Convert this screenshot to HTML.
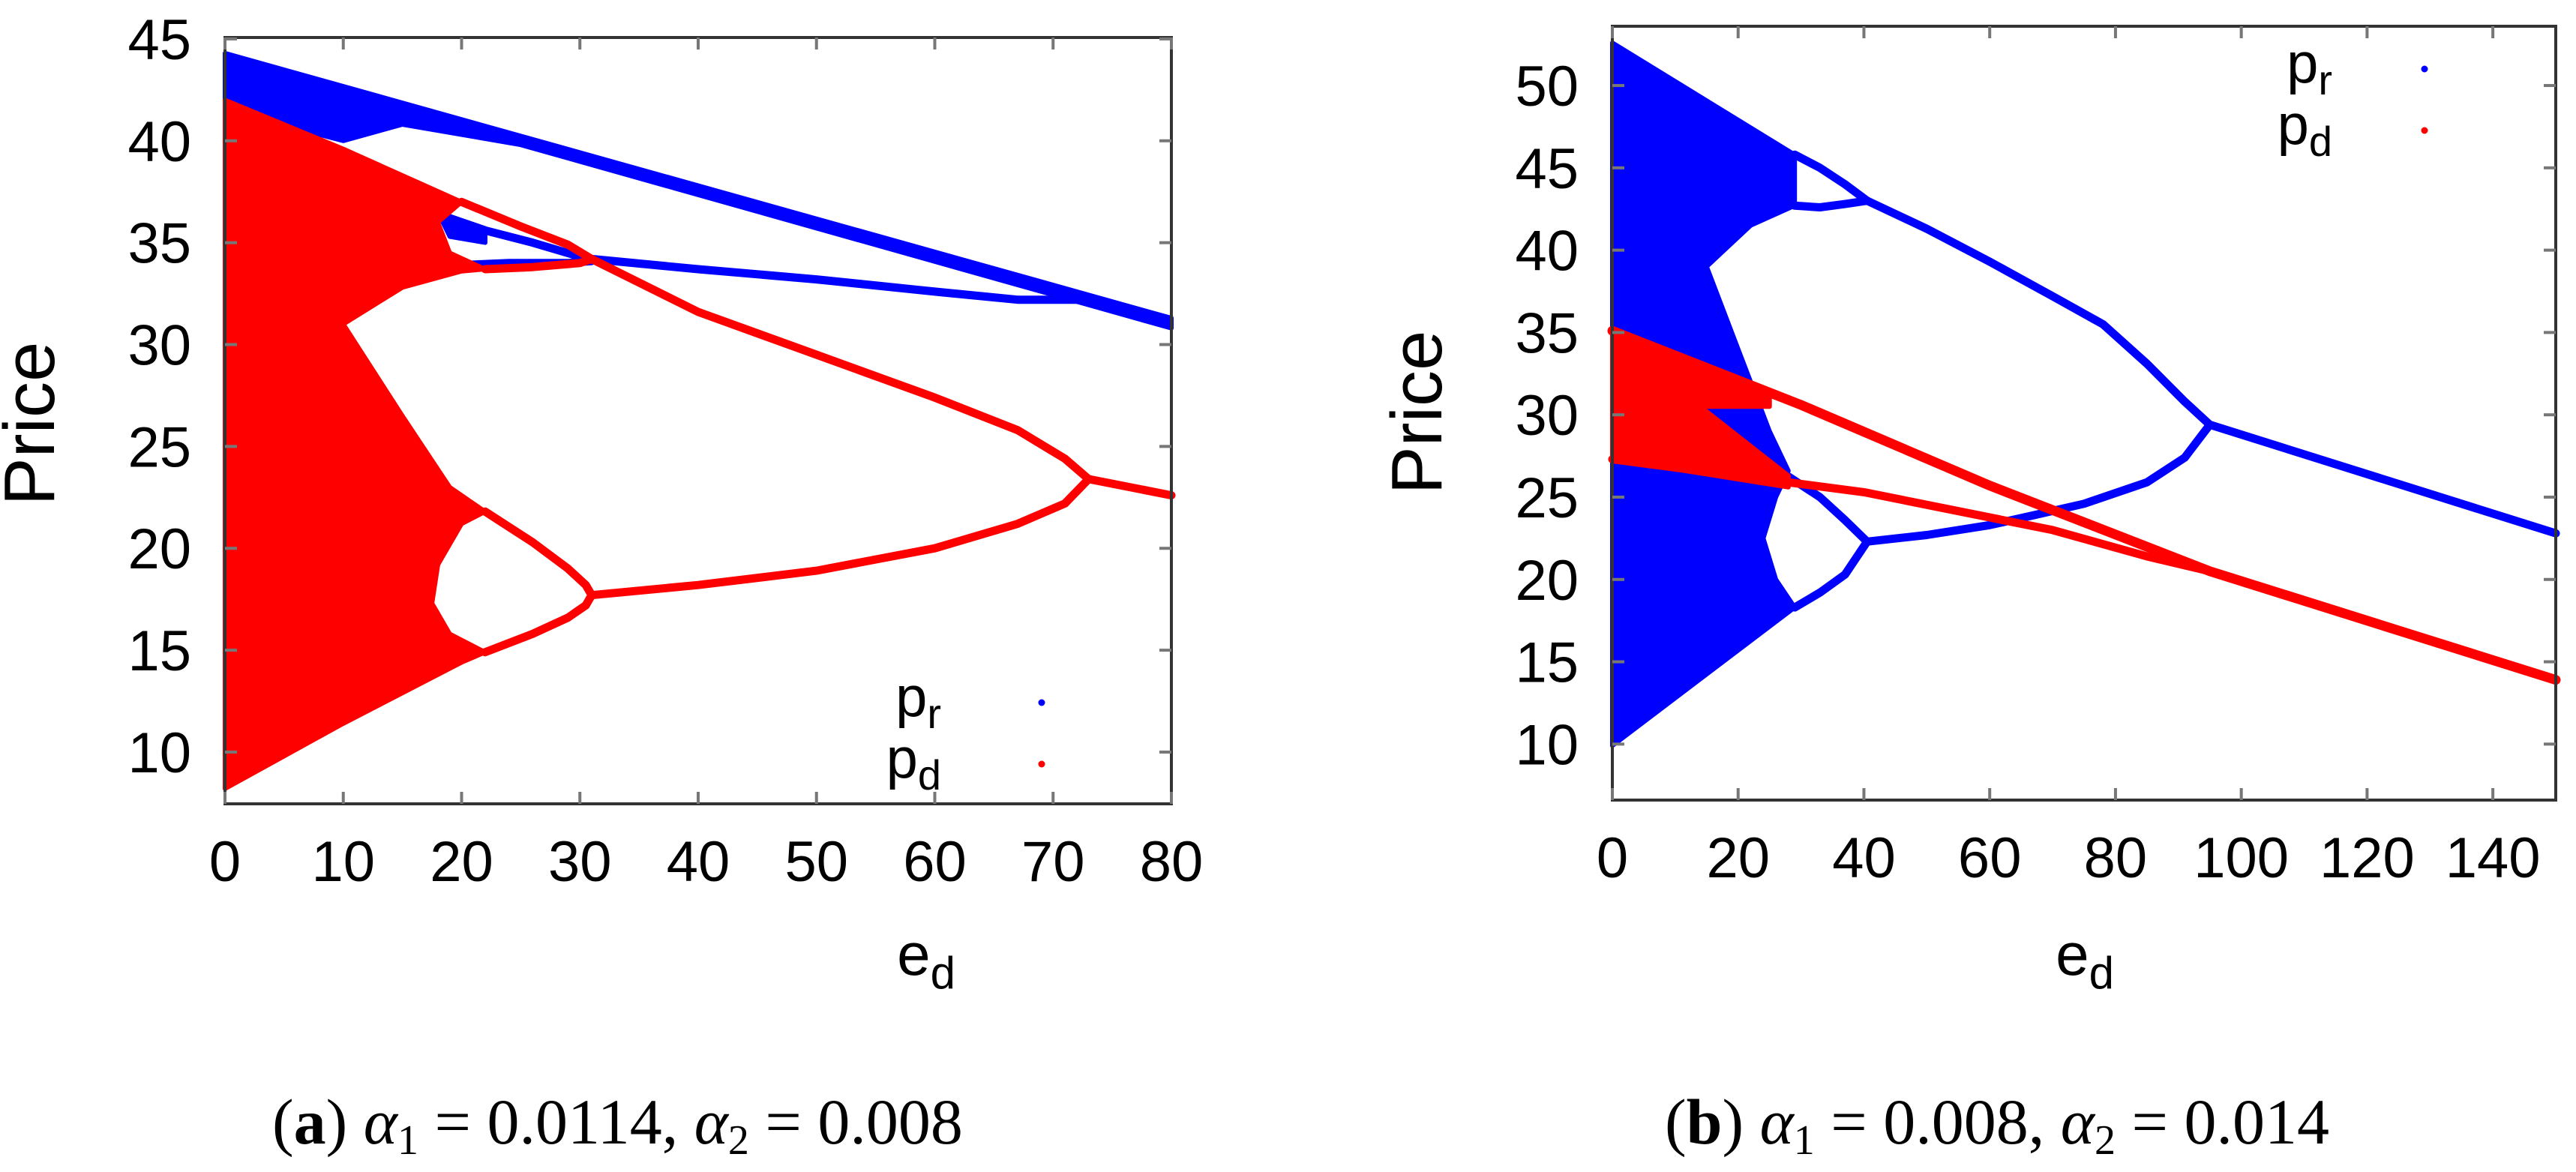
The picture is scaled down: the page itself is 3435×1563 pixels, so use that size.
<!DOCTYPE html>
<html><head><meta charset="utf-8">
<style>
html,body{margin:0;padding:0;background:#fff;}
svg{display:block;}
text{font-family:"Liberation Sans",sans-serif;fill:#000;}
.cap{font-family:"Liberation Serif",serif;font-size:86px;}
</style></head>
<body>
<svg id="fig" width="3435" height="1563" viewBox="0 0 3435 1563" xmlns="http://www.w3.org/2000/svg">
<text class="cap" x="363" y="1525">(<tspan font-weight="bold">a</tspan>)  <tspan font-style="italic">α</tspan><tspan font-size="56" dy="14">1</tspan><tspan dy="-14"> = 0.0114, </tspan><tspan font-style="italic">α</tspan><tspan font-size="56" dy="14">2</tspan><tspan dy="-14"> = 0.008</tspan></text>
<text class="cap" x="2220" y="1525">(<tspan font-weight="bold">b</tspan>)  <tspan font-style="italic">α</tspan><tspan font-size="56" dy="14">1</tspan><tspan dy="-14"> = 0.008, </tspan><tspan font-style="italic">α</tspan><tspan font-size="56" dy="14">2</tspan><tspan dy="-14"> = 0.014</tspan></text>
</svg>
<script>
// ---- Panel (a) data ----
const aXTicks = [0,10,20,30,40,50,60,70,80];
const aYTicks = [10,15,20,25,30,35,40,45];
const aBlueBand = [[0,44.3],[80,31.3],[80,30.8],[25,39.8],[15,40.8],[10,40.0],[0,41.5]];
const aBlueLoopFill = [[18,36.5],[22,35.7],[22,35.0],[19,35.3]];
const aBlueLoopUpper = [[18,36.4],[22,35.6],[26,35.0],[29.5,34.4],[31,34.2]];
const aBlueLoopLower = [[20,33.9],[24,34.0],[29,34.0],[31,34.1]];
const aBlueBranch = [[31,34.2],[40,33.7],[50,33.2],[60,32.6],[67,32.2],[73,32.2]];
const aRedChaos = [[0,8.2],[10,11.4],[20,14.4],[22,14.9],[19,15.8],[17.5,17.3],[18,19.2],[20,21.2],[22,21.8],[19,23],[15,26.5],[10,31],[15,32.8],[20,33.6],[22,33.7],[19,34.5],[18,36],[20,37],[10,39.6],[0,42]];
const aRedTopLoop = [[20,37],[25,35.8],[29,34.9],[31,34.2]];
const aRedBotLoop = [[22,33.7],[26,33.8],[30,34.0],[31,34.2]];
const aRedLoopUp = [[22,21.8],[26,20.3],[29,19.0],[30.5,18.2],[31,17.7]];
const aRedLoopDn = [[22,14.9],[26,15.8],[29,16.6],[30.5,17.2],[31,17.7]];
const aRedUpper = [[31,34.2],[40,31.6],[50,29.5],[60,27.4],[67,25.8],[71,24.4],[73,23.4]];
const aRedLower = [[31,17.7],[40,18.2],[50,18.9],[60,20.0],[67,21.2],[71,22.2],[73,23.4]];
const aRedTail = [[73,23.4],[80,22.6]];
// ---- Panel (b) data ----
const bXTicks = [0,20,40,60,80,100,120,140];
const bYTicks = [10,15,20,25,30,35,40,45,50];
const bBlueChaos = [[0,52.6],[29,45.8],[29,42.7],[22,41.5],[15,39],[20,34],[25,29],[28,26.6],[26,25.0],[24,22.5],[26,20.0],[29,18.3],[0,9.9]];
const bBlueLoopAU = [[29,45.8],[33,45.0],[37,44.0],[40.5,43.0]];
const bBlueLoopAL = [[29,42.7],[33,42.6],[37,42.8],[40.5,43.0]];
const bBlueLoopBU = [[27,26.5],[33,25.0],[37,23.6],[40.5,22.3]];
const bBlueLoopBL = [[29,18.3],[33,19.2],[37,20.3],[40.5,22.3]];
const bBlueUpper = [[40.5,43],[50,41.3],[60,39.3],[70,37.2],[78,35.5],[85,33.1],[91,30.8],[95,29.4]];
const bBlueLower = [[40.5,22.3],[50,22.7],[60,23.3],[67,23.9],[75,24.6],[85,25.9],[91,27.4],[95,29.4]];
const bBlueTail = [[95,29.4],[150,22.8]];
const bRedChaos = [[0,35.2],[25,31.3],[25,30.5],[14,30.5],[28,26.3],[28,25.6],[0,27.3]];
const bRedUpper = [[0,35.1],[30,30.6],[60,25.7],[95,20.5],[150,13.9]];
const bRedLower = [[0,27.3],[40,25.3],[70,23.0],[85,21.4],[95,20.5]];

const NS = "http://www.w3.org/2000/svg";
const svg = document.getElementById('fig');
function mk(tag, attrs, parent){const e=document.createElementNS(NS,tag);for(const k in attrs)e.setAttribute(k,attrs[k]);(parent||svg).appendChild(e);return e;}

function panel(p){
  const g = mk('g',{});
  
  
  const sx = v => p.L + (v - p.x0)/(p.x1 - p.x0)*(p.R - p.L);
  const sy = v => p.B - (v - p.y0)/(p.y1 - p.y0)*(p.B - p.T);
  const pts = arr => arr.map(d => sx(d[0]).toFixed(1)+','+sy(d[1]).toFixed(1)).join(' ');
  p.layers.forEach(l => {
    let e;
    if(l.type==='fill'){ e = mk('polygon',{points:pts(l.data),fill:l.color,stroke:l.color,'stroke-width':6,'stroke-linejoin':'round'},g); }
    else { e = mk('polyline',{points:pts(l.data),fill:'none',stroke:l.color,'stroke-width':l.w||11,'stroke-linejoin':'round','stroke-linecap':'round'},g); }
    
    
  });
  const fr = mk('rect',{x:p.L,y:p.T,width:p.R-p.L,height:p.B-p.T,fill:'none',stroke:'#333','stroke-width':4},g);
  
  
  p.xt.forEach(v => {
    const x = sx(v);
    mk('line',{x1:x,x2:x,y1:p.B,y2:p.B-16,stroke:'#777','stroke-width':4},g);
    mk('line',{x1:x,x2:x,y1:p.T,y2:p.T+16,stroke:'#777','stroke-width':4},g);
    const t = mk('text',{x:x,y:p.B+103,'font-size':76,'text-anchor':'middle'},g);
    t.textContent = v;
    
    
  });
  p.yt.forEach(v => {
    const y = sy(v);
    mk('line',{x1:p.L,x2:p.L+16,y1:y,y2:y,stroke:'#777','stroke-width':4},g);
    mk('line',{x1:p.R,x2:p.R-16,y1:y,y2:y,stroke:'#777','stroke-width':4},g);
    const t = mk('text',{x:p.L-45,y:y+27,'font-size':76,'text-anchor':'end'},g);
    t.textContent = v;
    
    
  });
  const yl = mk('text',{x:0,y:0,'font-size':96,'text-anchor':'middle',transform:`translate(${p.ylx},${p.yly}) rotate(-90)`},g);
  yl.textContent='Price';
  
  
  const xl = mk('text',{x:p.xlx,y:p.xly,'font-size':80,'text-anchor':'middle'},g);
  xl.innerHTML = 'e<tspan font-size="60" dy="18">d</tspan>';
  
  
  [['r','#0000ff',0],['d','#ff0000',82]].forEach(([s,c,dy]) => {
    const t = mk('text',{x:p.lgx,y:p.lgy+dy,'font-size':76,'text-anchor':'end'},g);
    t.innerHTML = 'p<tspan font-size="56" dy="16">'+s+'</tspan>';
    
    
    const d = mk('circle',{cx:p.lgdx,cy:p.lgy+dy-18,r:4.5,fill:c},g);
    
    
  });
}

panel({name:'panel-a',L:300,R:1562,T:50,B:1072,x0:0,x1:80,y0:7.46,y1:45.07,xt:aXTicks,yt:aYTicks,
  ylx:72,yly:565,xlx:1235,xly:1300,lgx:1255,lgy:955,lgdx:1389,
  layers:[
    {type:'fill',data:aBlueBand,color:'#0000ff',name:'pr-band'},
    {type:'fill',data:aBlueLoopFill,color:'#0000ff',name:'pr-loop-fill'},
    {type:'line',data:aBlueLoopUpper,color:'#0000ff',name:'pr-loop-upper'},
    {type:'line',data:aBlueLoopLower,color:'#0000ff',name:'pr-loop-lower'},
    {type:'line',data:aBlueBranch,color:'#0000ff',name:'pr-branch'},
    {type:'fill',data:aRedChaos,color:'#ff0000',name:'pd-chaos'},
    {type:'line',data:aRedTopLoop,color:'#ff0000',name:'pd-top-loop-upper'},
    {type:'line',data:aRedBotLoop,color:'#ff0000',name:'pd-top-loop-lower'},
    {type:'line',data:aRedLoopUp,color:'#ff0000',name:'pd-low-loop-upper'},
    {type:'line',data:aRedLoopDn,color:'#ff0000',name:'pd-low-loop-lower'},
    {type:'line',data:aRedUpper,color:'#ff0000',name:'pd-upper-branch'},
    {type:'line',data:aRedLower,color:'#ff0000',name:'pd-lower-branch'},
    {type:'line',data:aRedTail,color:'#ff0000',name:'pd-tail'}
  ]});

panel({name:'panel-b',L:2150,R:3408,T:35,B:1067,x0:0,x1:150,y0:6.6,y1:53.6,xt:bXTicks,yt:bYTicks,
  ylx:1922,yly:550,xlx:2780,xly:1300,lgx:3110,lgy:110,lgdx:3233,
  layers:[
    {type:'fill',data:bBlueChaos,color:'#0000ff',name:'pr-chaos'},
    {type:'line',data:bBlueLoopAU,color:'#0000ff',name:'pr-loop-a-upper'},
    {type:'line',data:bBlueLoopAL,color:'#0000ff',name:'pr-loop-a-lower'},
    {type:'line',data:bBlueLoopBU,color:'#0000ff',name:'pr-loop-b-upper'},
    {type:'line',data:bBlueLoopBL,color:'#0000ff',name:'pr-loop-b-lower'},
    {type:'line',data:bBlueUpper,color:'#0000ff',name:'pr-upper-branch'},
    {type:'line',data:bBlueLower,color:'#0000ff',name:'pr-lower-branch'},
    {type:'line',data:bBlueTail,color:'#0000ff',name:'pr-tail'},
    {type:'fill',data:bRedChaos,color:'#ff0000',name:'pd-chaos'},
    {type:'line',data:bRedUpper,color:'#ff0000',w:13,name:'pd-upper-line'},
    {type:'line',data:bRedLower,color:'#ff0000',w:11,name:'pd-lower-line'}
  ]});
</script>
</body></html>
